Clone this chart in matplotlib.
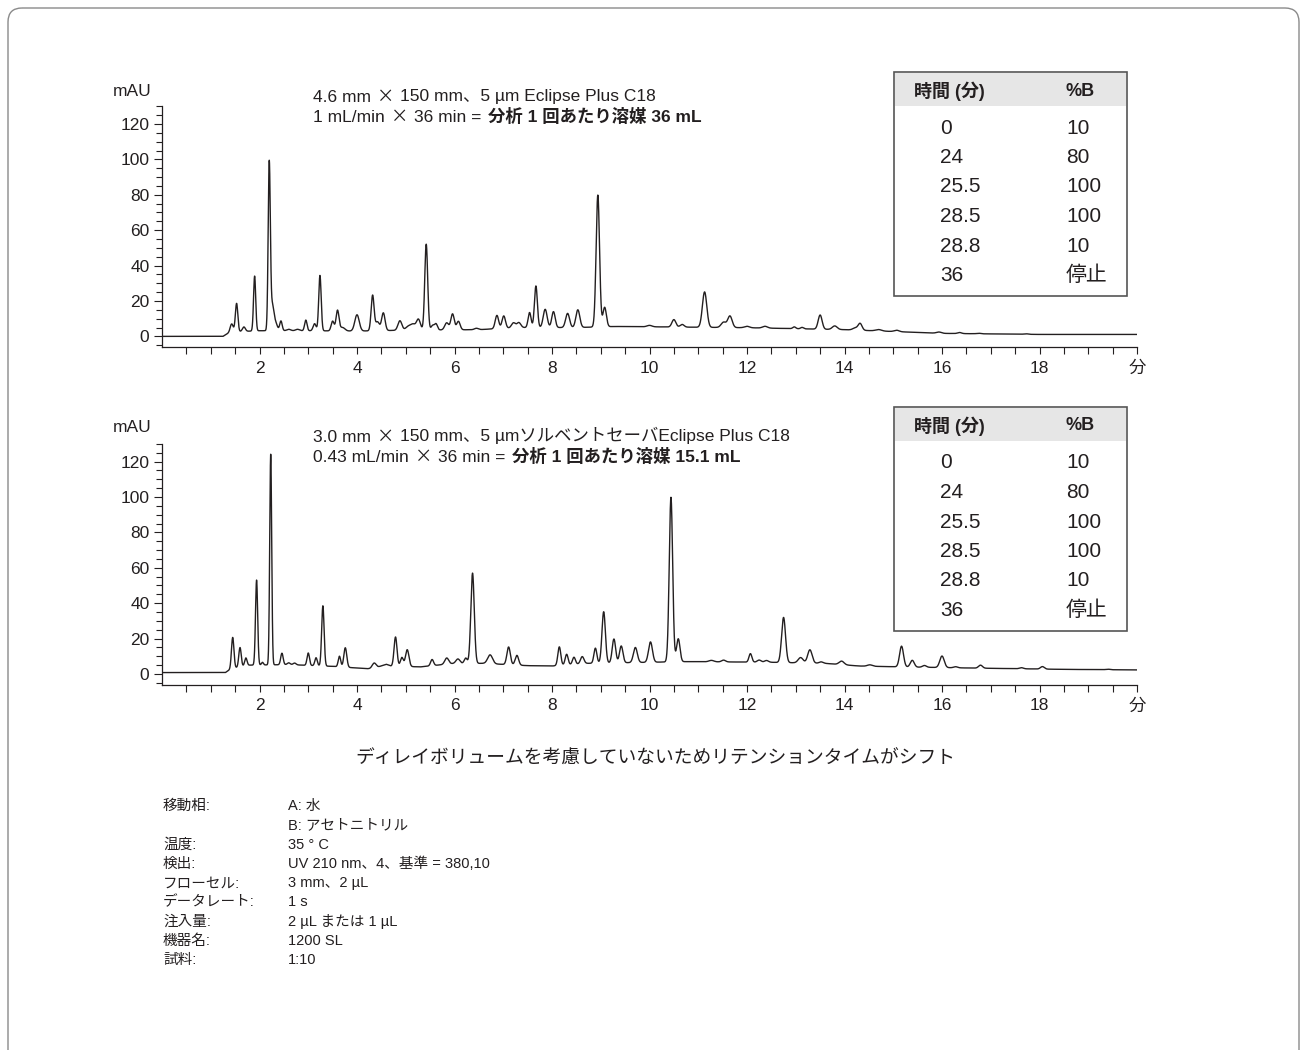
import numpy as np
import matplotlib
matplotlib.use("Agg")
import matplotlib.pyplot as plt
from matplotlib import font_manager
from matplotlib.patches import Rectangle, FancyBboxPatch

W, H = 1307, 1050

names = {f.name for f in font_manager.fontManager.ttflist}
NARROW = "Liberation Sans Narrow" if "Liberation Sans Narrow" in names else "Liberation Sans"
JP = "Noto Sans CJK JP"
plt.rcParams["font.family"] = [NARROW, JP, "DejaVu Sans"]
TABLE_FAM = ["Liberation Sans", JP, "DejaVu Sans"]

# ---------------- data ----------------
# baseline knots (min, mAU)
top_base_t = [0, 1.25, 1.4, 2.0, 3.0, 4.0, 5.0, 6.5, 7.3, 8.5, 9.3, 12, 14, 16, 18, 20]
top_base_v = [0, 0, 2.5, 3.2, 3.2, 3.0, 3.5, 3.8, 5.0, 5.0, 5.6, 4.9, 3.8, 1.7, 1.1, 1.1]

# peaks: retention time (min), height above baseline (mAU), sigma (min)
top_rt = [1.43, 1.53, 1.68, 1.90, 2.20, 2.26, 2.32, 2.44, 2.60, 2.78, 2.95, 3.13, 3.24,
          3.50, 3.60, 3.70, 4.00, 4.32, 4.42, 4.54, 4.88, 5.05, 5.15, 5.26, 5.42, 5.55,
          5.62, 5.84, 5.96, 6.08, 6.45, 6.87, 7.01, 7.21, 7.32, 7.54, 7.67, 7.86, 8.03,
          8.32, 8.53, 8.94, 9.08, 10.0, 10.50, 10.67, 11.13, 11.52, 11.65, 12.0, 12.37,
          12.97, 13.13, 13.50, 13.8, 14.22, 14.32, 14.7, 15.07, 15.94, 16.36, 16.75, 17.72]
top_h = [4.5, 16, 2.5, 31, 94.5, 13, 5, 5.5, 0.8, 0.8, 6, 4, 31.3,
         5.5, 11.5, 2, 9.2, 20, 5, 10, 5.4, 2.0, 3.2, 6.0, 48.5, 2.5,
         3.5, 4.0, 9.0, 4.8, 0.8, 7.5, 7.0, 2.8, 2.8, 8.5, 23.5, 10.3, 9,
         8, 10, 74.5, 11, 0.8, 4.2, 1.5, 20, 3, 6.5, 0.8, 1.0,
         1.0, 0.8, 8.0, 2.0, 1.2, 3.8, 0.8, 0.8, 0.7, 0.6, 0.3, 0.3]
top_w = [0.03, 0.025, 0.03, 0.022, 0.022, 0.03, 0.04, 0.025, 0.04, 0.04, 0.025, 0.03, 0.025,
         0.03, 0.03, 0.05, 0.045, 0.03, 0.04, 0.035, 0.04, 0.05, 0.05, 0.04, 0.03, 0.03,
         0.03, 0.04, 0.035, 0.035, 0.04, 0.035, 0.035, 0.04, 0.04, 0.03, 0.03, 0.04, 0.035,
         0.04, 0.04, 0.035, 0.035, 0.05, 0.04, 0.04, 0.045, 0.05, 0.045, 0.05, 0.05,
         0.03, 0.03, 0.04, 0.05, 0.05, 0.04, 0.06, 0.05, 0.05, 0.04, 0.04, 0.04]

bot_base_t = [0, 1.3, 1.42, 1.8, 2.6, 3.5, 4.2, 4.33, 4.6, 4.7, 5.3, 6.0, 6.6, 7.5, 8.0,
              8.7, 10.8, 12.5, 13.6, 14.3, 15.0, 16.5, 18.5, 20]
bot_base_v = [0.8, 0.8, 3.0, 5.0, 5.3, 4.3, 3.0, 3.0, 5.5, 4.5, 4.0, 6.0, 6.0, 4.7, 4.5,
              6.0, 7.0, 6.6, 6.0, 4.5, 4.1, 3.4, 2.6, 2.3]

bot_rt = [1.45, 1.60, 1.72, 1.94, 2.06, 2.23, 2.46, 2.60, 2.72, 3.00, 3.16, 3.30, 3.64,
          3.76, 4.35, 4.79, 4.92, 5.03, 5.54, 5.84, 6.07, 6.23, 6.37, 6.73, 7.11, 7.28,
          8.15, 8.30, 8.45, 8.62, 8.89, 9.06, 9.27, 9.42, 9.71, 10.02, 10.44, 10.59,
          11.27, 11.52, 12.07, 12.25, 12.40, 12.75, 13.10, 13.29, 13.52, 13.94, 14.52,
          15.17, 15.39, 15.64, 16.00, 16.28, 16.79, 17.63, 18.06, 19.40]
bot_h = [17.5, 11, 4.5, 48, 1.5, 119, 6.5, 1.0, 1.0, 7, 4.5, 34, 6,
         11, 3, 16.5, 5, 9.5, 3.5, 3.5, 2.5, 3.0, 51, 5, 10, 5.5,
         10.5, 6, 4, 4, 8.5, 29, 13.5, 9.5, 8.5, 11.5, 93, 13,
         0.8, 1, 4.8, 1.2, 1.0, 25.5, 3.0, 7.5, 0.8, 2.0, 0.8,
         11.7, 3.8, 1.0, 6.5, 0.6, 1.7, 0.6, 1.4, 0.3]
bot_w = [0.025, 0.025, 0.025, 0.022, 0.02, 0.02, 0.025, 0.03, 0.03, 0.025, 0.025, 0.025, 0.025,
         0.03, 0.04, 0.03, 0.03, 0.035, 0.03, 0.04, 0.04, 0.03, 0.035, 0.05, 0.035, 0.035,
         0.03, 0.03, 0.03, 0.035, 0.03, 0.035, 0.035, 0.035, 0.04, 0.04, 0.035, 0.035,
         0.05, 0.04, 0.03, 0.04, 0.04, 0.04, 0.05, 0.045, 0.04, 0.05, 0.05,
         0.04, 0.04, 0.04, 0.045, 0.04, 0.04, 0.04, 0.04, 0.04]

gradient_time = ["0", "24", "25.5", "28.5", "28.8", "36"]
gradient_b = ["10", "80", "100", "100", "10", "停止"]

top_note = [[("4.6 mm × 150 mm、5 µm Eclipse Plus C18", "normal")],
            [("1 mL/min × 36 min =", "normal"), ("分析 1 回あたり溶媒 36 mL", "bold")]]
bot_note = [[("3.0 mm × 150 mm、5 µmソルベントセーバEclipse Plus C18", "normal")],
            [("0.43 mL/min × 36 min =", "normal"), ("分析 1 回あたり溶媒 15.1 mL", "bold")]]

caption = "ディレイボリュームを考慮していないためリテンションタイムがシフト"
cond_labels = ["移動相:", "", "温度:", "検出:", "フローセル:", "データレート:", "注入量:", "機器名:", "試料:"]
cond_values = ["A: 水", "B: アセトニトリル", "35 ° C", "UV 210 nm、4、基準 = 380,10",
               "3 mm、2 µL", "1 s", "2 µL または 1 µL", "1200 SL", "1:10"]

INK = "#231f20"


def trace(t, base_t, base_v, rt, h, w):
    y = np.interp(t, base_t, base_v)
    for c, a, s in zip(rt, h, w):
        y = y + a * np.exp(-0.5 * ((t - c) / s) ** 2)
    return y


def setup_axes(ax):
    ax.set_xlim(0, 20)
    ax.set_ylim(-6, 130)
    ax.patch.set_alpha(0)
    for s in ["top", "right"]:
        ax.spines[s].set_visible(False)
    for s in ["left", "bottom"]:
        ax.spines[s].set_linewidth(0.9)
        ax.spines[s].set_color(INK)
    ax.set_xticks(np.arange(2, 20.1, 2))
    ax.set_xticklabels([str(v) for v in range(2, 20, 2)] + ["分"])
    ax.set_xticks(np.arange(0.5, 20.01, 0.5), minor=True)
    ax.set_yticks(np.arange(0, 121, 20))
    ax.set_yticks(np.arange(-5, 131, 5), minor=True)
    ax.tick_params(axis="x", which="both", length=5, width=0.8, color=INK, pad=5,
                   labelsize=12.5, labelcolor=INK)
    ax.tick_params(axis="y", which="major", length=6, width=0.8, color=INK, pad=3,
                   labelsize=12.5, labelcolor=INK)
    ax.tick_params(axis="y", which="minor", length=4, width=0.8, color=INK)


fig = plt.figure(figsize=(W / 100, H / 100), dpi=100)
fig.patch.set_facecolor("white")

t = np.linspace(0, 20, 12001)
ax_top = fig.add_axes([162 / W, 1 - 347 / H, 975 / W, 240.7 / H])
ax_bot = fig.add_axes([162 / W, 1 - 684.6 / H, 975 / W, 240.7 / H])
for ax, bt, bv, rt, hh, ww in [(ax_top, top_base_t, top_base_v, top_rt, top_h, top_w),
                                (ax_bot, bot_base_t, bot_base_v, bot_rt, bot_h, bot_w)]:
    setup_axes(ax)
    ax.plot(t, trace(t, bt, bv, rt, hh, ww), color=INK, lw=1.0)

# overlay in pixel coordinates for the frame, notes and tables
ov = fig.add_axes([0, 0, 1, 1])
ov.set_xlim(0, W)
ov.set_ylim(H, 0)
ov.axis("off")
ov.patch.set_alpha(0)

ov.add_patch(FancyBboxPatch((8, 8), W - 16, H + 40, boxstyle="round,pad=0,rounding_size=14",
                            fc="none", ec="#8a8a8a", lw=1.0))

renderer = fig.canvas.get_renderer()


def put(x, y, s, size, wgt, fam):
    tx = ov.text(x, y, s, fontsize=size, fontweight=wgt, va="baseline", ha="left",
                 color=INK, family=fam)
    return x + tx.get_window_extent(renderer=renderer).width


def note_line(x, y, parts, size):
    # the multiplication sign is the full-width one of the Japanese font
    gap = 6
    for s, wgt in parts:
        pieces = s.split("×")
        for j, p in enumerate(pieces):
            p = p.strip()
            if p:
                x = put(x, y, p, size, wgt, [NARROW, JP]) + gap
            if j < len(pieces) - 1:
                x = put(x, y, "×", size, wgt, [JP]) + gap


for y0, note in [(96, top_note), (436, bot_note)]:
    note_line(313, y0 + 5.5, note[0], 12.5)
    note_line(313, y0 + 25.5, note[1], 12.5)

for y0 in [92, 428]:
    ov.text(113, y0, "mAU", fontsize=12.5, va="center", ha="left", color=INK)

# gradient tables
for top in [72, 407]:
    ov.add_patch(Rectangle((894, top), 233, 224, fc="white", ec="#555555", lw=1.2))
    ov.add_patch(Rectangle((895, top + 1), 231, 33, fc="#e6e6e6", ec="none"))
    ov.text(914, top + 19, "時間 (分)", fontsize=13, fontweight="bold", va="center",
            ha="left", color=INK, family=TABLE_FAM)
    ov.text(1066, top + 19, "%B", fontsize=13, fontweight="bold", va="center",
            ha="left", color=INK, family=TABLE_FAM)
    for i, (a, b) in enumerate(zip(gradient_time, gradient_b)):
        yy = top + 56 + i * 29.5
        ov.text(940, yy, a, fontsize=15, va="center", ha="left", color=INK, family=TABLE_FAM)
        ov.text(1066, yy, b, fontsize=15, va="center", ha="left", color=INK, family=TABLE_FAM)

ov.text(655, 758, caption, fontsize=13.5, va="center", ha="center", color=INK,
        family=[JP, "DejaVu Sans"])

for i, (lab, val) in enumerate(zip(cond_labels, cond_values)):
    yy = 806 + i * 19.3
    ov.text(163, yy, lab, fontsize=10.5, va="center", ha="left", color=INK)
    ov.text(288, yy, val, fontsize=10.5, va="center", ha="left", color=INK)

fig.savefig("out.png", dpi=100, facecolor="white")
